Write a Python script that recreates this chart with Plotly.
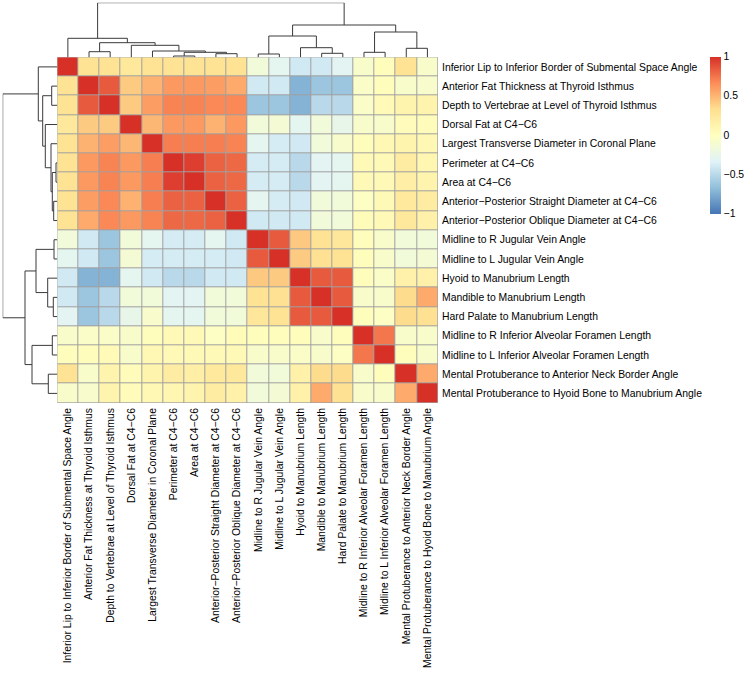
import plotly.graph_objects as go

labels = [
    "Inferior Lip to Inferior Border of Submental Space Angle",
    "Anterior Fat Thickness at Thyroid Isthmus",
    "Depth to Vertebrae at Level of Thyroid Isthmus",
    "Dorsal Fat at C4\u2212C6",
    "Largest Transverse Diameter in Coronal Plane",
    "Perimeter at C4\u2212C6",
    "Area at C4\u2212C6",
    "Anterior\u2212Posterior Straight Diameter at C4\u2212C6",
    "Anterior\u2212Posterior Oblique Diameter at C4\u2212C6",
    "Midline to R Jugular Vein Angle",
    "Midline to L Jugular Vein Angle",
    "Hyoid to Manubrium Length",
    "Mandible to Manubrium Length",
    "Hard Palate to Manubrium Length",
    "Midline to R Inferior Alveolar Foramen Length",
    "Midline to L Inferior Alveolar Foramen Length",
    "Mental Protuberance to Anterior Neck Border Angle",
    "Mental Protuberance to Hyoid Bone to Manubrium Angle",
]

corr = [
    [1, .3, .3, .25, .3, .3, .3, .3, .3, -.15, -.28, -.4, -.4, -.3, -.07, .02, .3, -.07],
    [.3, 1, .85, .42, .52, .62, .62, .6, .55, -.4, -.4, -.72, -.62, -.62, -.05, .02, -.07, -.08],
    [.3, .85, 1, .42, .6, .7, .7, .68, .68, -.62, -.62, -.72, -.5, -.5, -.05, .05, .12, .12],
    [.25, .42, .42, 1, .5, .62, .62, .52, .62, -.15, -.12, -.28, -.15, -.25, -.07, -.07, .03, .03],
    [.3, .52, .6, .5, 1, .72, .72, .72, .7, -.28, -.38, -.4, -.15, -.08, .02, .08, .12, .08],
    [.3, .62, .7, .62, .72, 1, .95, .82, .8, -.38, -.38, -.5, -.3, -.28, .06, .06, .2, .1],
    [.3, .62, .7, .62, .72, .95, 1, .82, .8, -.38, -.38, -.5, -.3, -.28, .06, .06, .18, .12],
    [.3, .6, .68, .52, .72, .82, .82, 1, .82, -.28, -.38, -.4, -.15, -.15, -.03, .06, .24, .2],
    [.3, .55, .68, .62, .7, .8, .8, .82, 1, -.4, -.4, -.4, -.15, -.15, .04, .06, .25, .15],
    [-.15, -.4, -.62, -.15, -.28, -.38, -.38, -.28, -.4, 1, .85, .43, .3, .26, .02, -.07, -.15, -.15],
    [-.28, -.4, -.62, -.12, -.38, -.38, -.38, -.38, -.4, .85, 1, .42, .32, .3, .02, -.07, -.15, -.12],
    [-.4, -.72, -.72, -.28, -.4, -.5, -.5, -.4, -.4, .43, .42, 1, .85, .85, .02, -.05, .15, .15],
    [-.4, -.62, -.5, -.15, -.15, -.3, -.3, -.15, -.15, .3, .32, .85, 1, .85, -.07, -.07, .35, .55],
    [-.3, -.62, -.5, -.25, -.08, -.28, -.28, -.15, -.15, .26, .3, .85, .85, 1, .02, -.03, .35, .32],
    [-.07, -.05, -.05, -.07, .02, .06, .06, -.03, .04, .02, .02, .02, -.07, .02, 1, .75, -.07, -.07],
    [.02, .02, .05, -.07, .08, .06, .06, .06, .06, -.07, -.07, -.05, -.07, -.03, .75, 1, .02, -.07],
    [.3, -.07, .12, .03, .12, .2, .18, .24, .25, -.15, -.15, .15, .35, .35, -.07, .02, 1, .55],
    [-.07, -.08, .12, .03, .08, .1, .12, .2, .15, -.15, -.12, .15, .55, .32, -.07, -.07, .55, 1],
]

# Dendrogram merges (leaf ids 0..17 in display order, merged nodes 18..)
merge_a = [5, 7, 18, 4, 3, 1, 23, 0, 9, 12, 11, 26, 14, 16, 30, 29, 25]
merge_b = [6, 8, 19, 20, 21, 2, 22, 24, 10, 13, 27, 28, 15, 17, 31, 32, 33]
merge_h = [1.3, 3.6, 5.0, 6.3, 12.0, 5.6, 14.6, 19.0, 3.3, 4.0, 9.6, 21.3, 5.0, 9.0, 25.3, 32.3, 54.6]

colorscale_cols = ["#4575B4", "#91BFDB", "#E0F3F8", "#FFFFBF", "#FEE090", "#FC8D59", "#D73027"]

W, H = 750, 675
hx0, hx1 = 57.3, 438.0
hy0, hy1 = 57.3, 403.0
top_root_y = 2.7
left_root_x = 2.7

n = len(labels)
idx = list(range(n))

fig = go.Figure()

fig.add_trace(go.Heatmap(
    z=corr, x=idx, y=idx,
    zmin=-1, zmax=1,
    colorscale=[[i / (len(colorscale_cols) - 1), c] for i, c in enumerate(colorscale_cols)],
    xgap=1, ygap=1,
    hoverinfo="skip",
    colorbar=dict(
        x=709.5 / W, xanchor="left", xpad=0, ypad=0,
        y=1 - 135 / H, yanchor="middle",
        len=157, lenmode="pixels", thickness=11,
        outlinewidth=0,
        tickvals=[-1, -0.5, 0, 0.5, 1],
        ticktext=["\u22121", "\u22120.5", "0", "0.5", "1"],
        ticks="", tickfont=dict(size=10.4, color="black", family="Liberation Sans"),
    ),
))

# dendrogram geometry
pos = {i: float(i) for i in range(n)}
hgt = {i: 0.0 for i in range(n)}
seg_p, seg_h = [], []
for k, (a, b, hh) in enumerate(zip(merge_a, merge_b, merge_h)):
    node = n + k
    seg_p += [pos[a], pos[a], pos[b], pos[b], None]
    seg_h += [hgt[a], hh, hh, hgt[b], None]
    pos[node] = (pos[a] + pos[b]) / 2
    hgt[node] = hh

line_style = dict(color="#3a3a3a", width=1)
fig.add_trace(go.Scatter(x=seg_p, y=seg_h, mode="lines", line=line_style,
                         xaxis="x2", yaxis="y2", hoverinfo="skip", showlegend=False))
fig.add_trace(go.Scatter(x=seg_h, y=seg_p, mode="lines", line=line_style,
                         xaxis="x3", yaxis="y3", hoverinfo="skip", showlegend=False))

maxh = max(merge_h)
font = dict(family="Liberation Sans", size=10.4, color="black")

fig.update_layout(
    width=W, height=H,
    margin=dict(l=0, r=0, t=0, b=0),
    paper_bgcolor="white", plot_bgcolor="white",
    showlegend=False,
    font=font,
    xaxis=dict(domain=[hx0 / W, hx1 / W], range=[-0.5, n - 0.5],
               tickvals=idx, ticktext=labels, tickangle=-90, side="bottom",
               showgrid=False, zeroline=False, ticks="", tickfont=font, anchor="y",
               ticklabelstandoff=2),
    yaxis=dict(domain=[1 - hy1 / H, 1 - hy0 / H], range=[n - 0.5, -0.5],
               tickvals=idx, ticktext=labels, side="right",
               showgrid=False, zeroline=False, ticks="", tickfont=font, anchor="x",
               ticklabelstandoff=3),
    xaxis2=dict(domain=[hx0 / W, hx1 / W], range=[-0.5, n - 0.5], visible=False, anchor="y2"),
    yaxis2=dict(domain=[1 - hy0 / H, 1 - top_root_y / H], range=[0, maxh], visible=False, anchor="x2"),
    xaxis3=dict(domain=[left_root_x / W, hx0 / W], range=[maxh, 0], visible=False, anchor="y3"),
    yaxis3=dict(domain=[1 - hy1 / H, 1 - hy0 / H], range=[n - 0.5, -0.5], visible=False, anchor="x3"),
    shapes=[dict(type="rect", xref="x", yref="y", x0=-0.5, x1=n - 0.5, y0=-0.5, y1=n - 0.5,
                 fillcolor="#a0a0a0", line=dict(color="#a0a0a0", width=1), layer="below")],
)

fig.write_html("out.html")
